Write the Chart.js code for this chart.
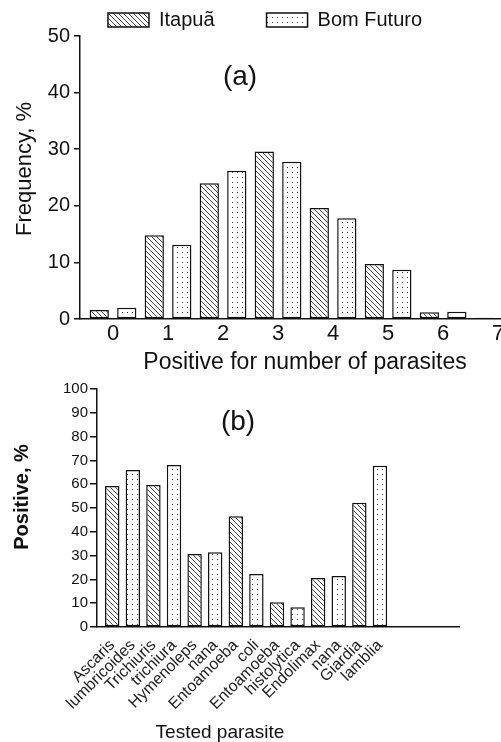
<!DOCTYPE html>
<html>
<head>
<meta charset="utf-8">
<script src="https://cdn.jsdelivr.net/npm/chart.js@4.4.1/dist/chart.umd.min.js"></script>
<style>
  html, body { margin: 0; padding: 0; background: #fff; overflow: hidden; width: 501px; height: 742px; }
  #chartA { position: absolute; left: 0; top: 0; }
  #chartB { position: absolute; left: 0; top: 372px; }
</style>
</head>
<body>
<canvas id="chartA" width="560" height="378"></canvas>
<canvas id="chartB" width="501" height="370"></canvas>
<script>
// (a) share of people by number of parasites found
const seriesNames = ['Itapuã', 'Bom Futuro'];
const countLabels = ['0', '1', '2', '3', '4', '5', '6', '7'];
const itapuaFreq = [1.6, 14.8, 24.0, 29.6, 19.6, 9.7, 1.2, 0.2];
const bomFuturoFreq = [2.0, 13.1, 26.2, 27.8, 17.8, 8.7, 1.3, 0];
const freqTicks = [0, 10, 20, 30, 40, 50];

// (b) positive per tested parasite (genus, species)
const parasites = [
    ['Ascaris', 'lumbricoides'],
    ['Trichiuris', 'trichiura'],
    ['Hymenoleps', 'nana'],
    ['Entoamoeba', 'coli'],
    ['Entoamoeba', 'histolytica'],
    ['Endolimax', 'nana'],
    ['Giardia', 'lamblia']
];
const itapuaPos = [59.2, 59.7, 30.7, 46.5, 10.4, 20.6, 52.2];
const bomFuturoPos = [66.0, 68.1, 31.4, 22.3, 8.3, 21.4, 67.8];
const posTicks = [0, 10, 20, 30, 40, 50, 60, 70, 80, 90, 100];

const FONT = "'Liberation Sans', Arial, sans-serif";
Chart.defaults.font.family = FONT;
Chart.defaults.color = '#111';

function makeHatch() {
    const c = document.createElement('canvas');
    c.width = 5; c.height = 5;
    const g = c.getContext('2d');
    g.fillStyle = '#fff';
    g.fillRect(0, 0, 5, 5);
    g.strokeStyle = '#444';
    g.lineWidth = 1;
    g.beginPath();
    g.moveTo(-1, -1); g.lineTo(6, 6);
    g.moveTo(-1, 4); g.lineTo(1, 6);
    g.moveTo(4, -1); g.lineTo(6, 1);
    g.stroke();
    return g.createPattern(c, 'repeat');
}

function makeDots() {
    const c = document.createElement('canvas');
    c.width = 5; c.height = 5;
    const g = c.getContext('2d');
    g.fillStyle = '#fff';
    g.fillRect(0, 0, 5, 5);
    g.fillStyle = '#333';
    g.fillRect(2, 2, 1, 1);
    return g.createPattern(c, 'repeat');
}

const hatch = makeHatch();
const dots = makeDots();

function barSet(label, values, fill) {
    return {
        label: label,
        data: values.map((v, i) => ({ x: i, y: v })),
        backgroundColor: fill,
        borderColor: '#111',
        borderWidth: 1.5,
        borderSkipped: false,
        categoryPercentage: 1,
        barPercentage: 0.7
    };
}

// free text drawn on the canvas: panel letters, axis titles
const notes = {
    id: 'notes',
    afterDraw(chart, args, opts) {
        const c = chart.ctx;
        opts.items.forEach(t => {
            c.save();
            c.fillStyle = '#111';
            c.textAlign = 'center';
            c.textBaseline = 'middle';
            c.font = t.font;
            c.translate(t.x, t.y);
            if (t.rotate) c.rotate(-Math.PI / 2);
            c.fillText(t.text, 0, 0);
            c.restore();
        });
    }
};

const axisBorder = { color: '#111', width: 1.5 };

new Chart(document.getElementById('chartA'), {
    type: 'bar',
    data: {
        datasets: [
            barSet(seriesNames[0], itapuaFreq, hatch),
            barSet(seriesNames[1], bomFuturoFreq, dots)
        ]
    },
    plugins: [notes],
    options: {
        responsive: false,
        animation: false,
        layout: { padding: { top: -42, right: 30, left: 0, bottom: 0 } },
        scales: {
            x: {
                type: 'linear',
                min: -0.6,
                max: 7.58,
                offset: false,
                afterBuildTicks: s => { s.ticks = countLabels.map((_, i) => ({ value: i })); },
                ticks: {
                    callback: (v, i) => countLabels[i],
                    font: { size: 22 },
                    padding: 2,
                    autoSkip: false,
                    maxRotation: 0
                },
                grid: { display: false, drawTicks: false },
                border: axisBorder,
                title: {
                    display: true,
                    text: 'Positive for number of parasites',
                    font: { size: 23 },
                    padding: { top: 0, bottom: 2 }
                },
                afterFit: s => { s.height = 378 - 319; }
            },
            y: {
                min: 0,
                max: 50,
                afterBuildTicks: s => { s.ticks = freqTicks.map(v => ({ value: v })); },
                ticks: { font: { size: 20 }, padding: 4 },
                grid: { drawOnChartArea: false, drawTicks: true, tickLength: 6, color: '#111', lineWidth: 1.5 },
                border: axisBorder,
                afterFit: s => { s.width = 80; }
            }
        },
        plugins: {
            legend: {
                position: 'top',
                maxHeight: 78,
                labels: {
                    boxWidth: 41,
                    boxHeight: 14,
                    padding: 52,
                    font: { size: 20 }
                }
            },
            tooltip: { enabled: false },
            notes: {
                items: [
                    { text: '(a)', x: 240, y: 77, font: '28px ' + FONT },
                    { text: 'Frequency, %', x: 25, y: 169, rotate: true, font: '22px ' + FONT }
                ]
            }
        }
    }
});

const wordTicks = [];
parasites.forEach((p, i) => {
    wordTicks.push({ value: i - 0.25, word: p[0] });
    wordTicks.push({ value: i + 0.25, word: p[1] });
});

new Chart(document.getElementById('chartB'), {
    type: 'bar',
    data: {
        datasets: [
            barSet(seriesNames[0], itapuaPos, hatch),
            barSet(seriesNames[1], bomFuturoPos, dots)
        ]
    },
    plugins: [notes],
    options: {
        responsive: false,
        animation: false,
        layout: { padding: { top: 17, right: 42, left: 0, bottom: 0 } },
        scales: {
            x: {
                type: 'linear',
                min: -0.62,
                max: 8.17,
                offset: false,
                weight: 0,
                afterBuildTicks: s => { s.ticks = parasites.map((_, i) => ({ value: i })); },
                ticks: { display: false },
                grid: { display: false, drawTicks: false },
                border: axisBorder
            },
            xl: {
                type: 'linear',
                position: 'bottom',
                min: -0.62,
                max: 8.17,
                offset: false,
                weight: 1,
                afterBuildTicks: s => { s.ticks = wordTicks.map(t => ({ value: t.value })); },
                ticks: {
                    callback: (v, i) => wordTicks[i].word,
                    font: { size: 16 },
                    color: '#222',
                    padding: 9,
                    autoSkip: false,
                    minRotation: 45,
                    maxRotation: 45
                },
                grid: { display: false, drawTicks: false },
                border: { display: false },
                afterFit: s => { s.height = 115; }
            },
            y: {
                min: 0,
                max: 100,
                afterBuildTicks: s => { s.ticks = posTicks.map(v => ({ value: v })); },
                ticks: { font: { size: 15 }, padding: 2 },
                grid: { drawOnChartArea: false, drawTicks: true, tickLength: 7, color: '#111', lineWidth: 1.5 },
                border: axisBorder,
                afterFit: s => { s.width = 97; }
            }
        },
        plugins: {
            legend: { display: false },
            tooltip: { enabled: false },
            notes: {
                items: [
                    { text: '(b)', x: 238, y: 50, font: '28px ' + FONT },
                    { text: 'Positive, %', x: 22, y: 125, rotate: true, font: 'bold 20px ' + FONT },
                    { text: 'Tested parasite', x: 220, y: 361, font: '19px ' + FONT }
                ]
            }
        }
    }
});
</script>
</body>
</html>
